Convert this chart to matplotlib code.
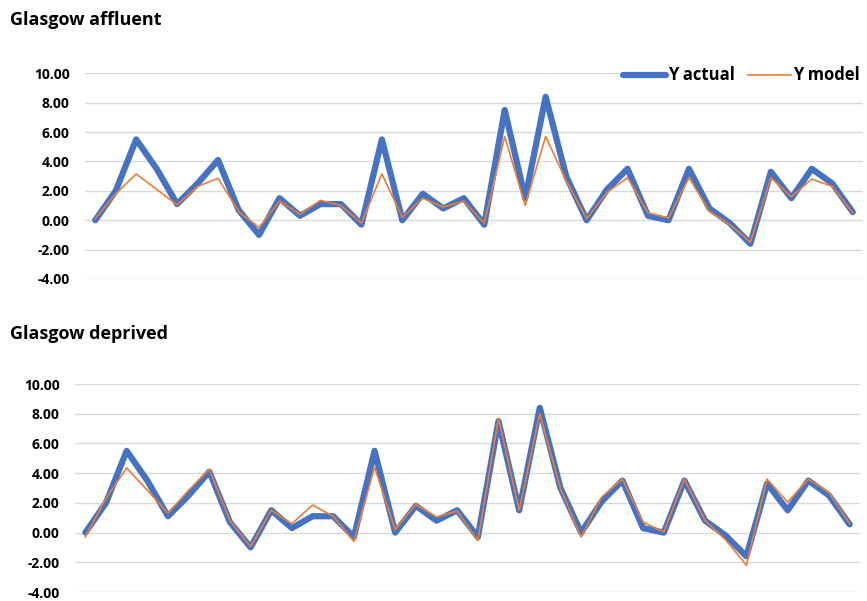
import matplotlib.pyplot as plt
import numpy as np

plt.rcParams['font.family'] = ['Open Sans', 'DejaVu Sans']
plt.rcParams['font.weight'] = 'bold'

# observed series, shared by both areas
y_actual = [0.0, 2.0, 5.5, 3.5, 1.1, 2.5, 4.1, 0.7, -1.0, 1.5,
            0.3, 1.1, 1.1, -0.3, 5.5, 0.0, 1.8, 0.8, 1.5, -0.3,
            7.5, 1.5, 8.4, 3.0, 0.0, 2.1, 3.5, 0.3, 0.0, 3.5,
            0.8, -0.2, -1.6, 3.3, 1.5, 3.5, 2.5, 0.55]

model_affluent = [0.1, 1.8, 3.15, 2.1, 1.05, 2.3, 2.85, 0.6, -0.5, 1.3,
                  0.4, 1.35, 1.0, -0.2, 3.15, 0.2, 1.5, 0.9, 1.3, -0.2,
                  5.7, 1.0, 5.7, 2.7, 0.1, 1.9, 2.9, 0.5, 0.15, 2.9,
                  0.6, -0.3, -1.5, 2.9, 1.6, 2.8, 2.3, 0.5]

model_deprived = [-0.3, 2.3, 4.35, 2.85, 1.3, 2.85, 4.25, 0.8, -0.95, 1.5,
                  0.6, 1.85, 1.1, -0.6, 4.4, 0.2, 1.9, 1.05, 1.45, -0.55,
                  7.7, 1.5, 8.0, 2.95, -0.3, 2.4, 3.6, 0.7, 0.05, 3.6,
                  0.8, -0.5, -2.2, 3.6, 2.05, 3.6, 2.7, 0.6]

panels = [
    ('Glasgow affluent', model_affluent, [85 / 867, 1 - 279 / 601, 778 / 867, 205.7 / 601], True),
    ('Glasgow deprived', model_deprived, [75 / 867, 9 / 601, 785 / 867, 208 / 601], False),
]
title_y = [1 - 20 / 601, 1 - 334 / 601]

BLUE = '#4472C4'
ORANGE = '#ED7D31'

fig = plt.figure(figsize=(8.67, 6.01), dpi=100)

for (title, model, rect, show_legend), ty in zip(panels, title_y):
    ax = fig.add_axes(rect)
    x = np.arange(len(y_actual))
    ax.plot(x, y_actual, color=BLUE, lw=4.5, solid_joinstyle='round',
            solid_capstyle='round', label='Y actual', zorder=3)
    ax.plot(x, model, color=ORANGE, lw=1.2, label='Y model', zorder=4)

    ax.set_xlim(-0.5, len(y_actual) - 0.5)
    ax.set_ylim(-4, 10)
    ax.set_yticks(np.arange(-4, 11, 2))
    ax.set_yticklabels([f'{v:.2f}' for v in np.arange(-4, 11, 2)])
    ax.set_xticks([])
    ax.tick_params(axis='y', length=0, pad=11, labelsize=10)
    ax.grid(axis='y', color='#D9D9D9', lw=1)
    ax.set_axisbelow(True)
    for s in ax.spines.values():
        s.set_visible(False)

    fig.text(10 / 867, ty, title, fontsize=13, fontweight='bold', va='center', ha='left')

    if show_legend:
        leg = ax.legend(loc='upper right', bbox_to_anchor=(1.0, 1.05), ncol=2,
                        frameon=True, facecolor='white', edgecolor='none',
                        framealpha=1, fontsize=12, handlelength=2.6,
                        handletextpad=0.1, columnspacing=0.8,
                        borderpad=0.2, borderaxespad=0)
        leg.set_zorder(10)

fig.savefig('out.png', dpi=100)
